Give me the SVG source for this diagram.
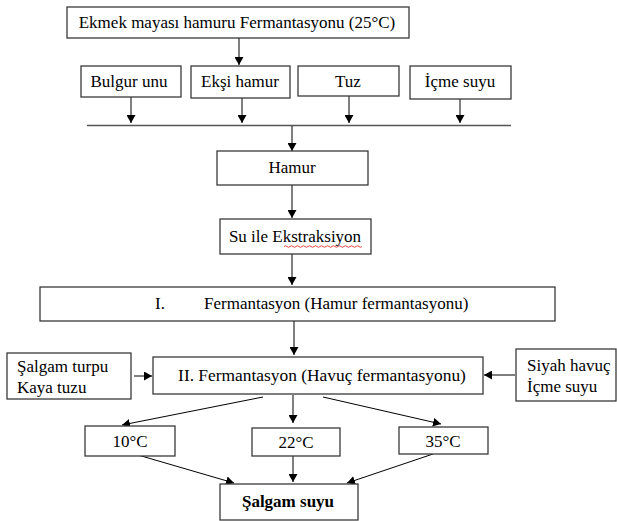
<svg xmlns="http://www.w3.org/2000/svg" width="617" height="521" viewBox="0 0 617 521">
<defs>
<marker id="ah" markerWidth="8" markerHeight="9" refX="8" refY="4.5" orient="auto" markerUnits="userSpaceOnUse">
<path d="M0,0 L8,4.5 L0,9 Z" fill="#000"/>
</marker>
</defs>
<style>
rect{fill:#fff;stroke:#3a3a3a;stroke-width:1.3}
text{font-family:"Liberation Serif","Times New Roman",serif;font-size:17px;fill:#000}
.c{text-anchor:middle}
.b{font-weight:bold}
#connectors line{stroke:#000;stroke-width:1}
#connectors line.a{marker-end:url(#ah)}
</style>
<rect x="0" y="0" width="617" height="521" style="fill:#fff;stroke:none"/>
<g id="connectors">
<line class="a" x1="239" y1="38" x2="239" y2="65"/>
<line class="a" x1="131" y1="97" x2="131" y2="123"/>
<line class="a" x1="242" y1="98" x2="242" y2="123"/>
<line class="a" x1="349" y1="96" x2="349" y2="123"/>
<line class="a" x1="460" y1="99" x2="460" y2="123"/>
<line x1="87" y1="125.5" x2="511" y2="125.5" style="stroke:#555;stroke-width:1.3"/>
<line class="a" x1="292" y1="126" x2="292" y2="151"/>
<line class="a" x1="292" y1="185" x2="292" y2="218"/>
<line class="a" x1="292" y1="254" x2="292" y2="285"/>
<line class="a" x1="294" y1="321" x2="294" y2="355"/>
<line class="a" x1="134" y1="376" x2="152" y2="376"/>
<line class="a" x1="515" y1="375" x2="484" y2="375"/>
<line class="a" x1="263" y1="397" x2="122" y2="425"/>
<line class="a" x1="293" y1="395" x2="293" y2="423"/>
<line class="a" x1="323" y1="397" x2="441" y2="424"/>
<line class="a" x1="138" y1="455" x2="234" y2="483"/>
<line class="a" x1="293" y1="456" x2="293" y2="482"/>
<line class="a" x1="433" y1="454" x2="347" y2="483"/>
</g>
<g id="n-ekmek"><rect x="67" y="7" width="342" height="31"/><text class="c" x="237" y="28">Ekmek mayası hamuru Fermantasyonu (25°C)</text></g>
<g id="n-bulgur"><rect x="81" y="66" width="100" height="31"/><text class="c" x="129" y="87">Bulgur unu</text></g>
<g id="n-eksi"><rect x="191" y="66" width="99" height="32"/><text class="c" x="240" y="87">Ekşi hamur</text></g>
<g id="n-tuz"><rect x="298" y="66" width="101" height="30"/><text class="c" x="348" y="87">Tuz</text></g>
<g id="n-icme"><rect x="410" y="66" width="101" height="33"/><text class="c" x="460" y="87">İçme suyu</text></g>
<g id="n-hamur"><rect x="217" y="151" width="151" height="34"/><text class="c" x="292" y="173">Hamur</text></g>
<g id="n-su"><rect x="220" y="219" width="151" height="35"/><text class="c" x="295" y="242">Su ile Ekstraksiyon</text>
<path d="M284,246.5 q1.5,-1.5 3,0 t3,0 t3,0 t3,0 t3,0 t3,0 t3,0 t3,0 t3,0 t3,0 t3,0 t3,0 t3,0 t3,0 t3,0 t3,0 t3,0 t3,0 t3,0 t3,0 t3,0 t3,0 t3,0 t3,0 t3,0 t3,0" style="fill:none;stroke:#e03030;stroke-width:0.9"/></g>
<g id="n-ferm1"><rect x="40" y="287" width="515" height="34"/><text x="155" y="309">I.</text><text x="204" y="309">Fermantasyon (Hamur fermantasyonu)</text></g>
<g id="n-salgam"><rect x="7" y="353" width="124" height="46"/><text x="17" y="372">Şalgam turpu</text><text x="17" y="393">Kaya tuzu</text></g>
<g id="n-ferm2"><rect x="153" y="357" width="330" height="37"/><text class="c" x="322" y="381" style="font-size:17.4px">II. Fermantasyon (Havuç fermantasyonu)</text></g>
<g id="n-siyah"><rect x="516" y="349" width="100" height="52"/><text x="527" y="371">Siyah havuç</text><text x="527" y="392">İçme suyu</text></g>
<g id="n-10"><rect x="85" y="426" width="90" height="30"/><text class="c" x="130" y="447">10°C</text></g>
<g id="n-22"><rect x="252" y="428" width="88" height="28"/><text class="c" x="296" y="448">22°C</text></g>
<g id="n-35"><rect x="399" y="427" width="89" height="27"/><text class="c" x="443" y="447">35°C</text></g>
<g id="n-suyu"><rect x="220" y="484" width="138" height="36"/><text class="c b" x="288" y="507">Şalgam suyu</text></g>
</svg>
